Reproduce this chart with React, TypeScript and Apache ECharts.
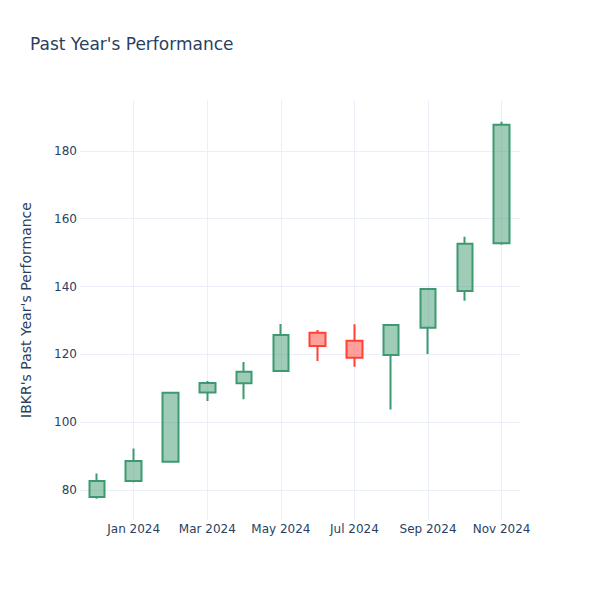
import React, { useEffect, useRef } from "react";
import * as echarts from "echarts";

// Monthly candles, Dec 2023 .. Nov 2024
const monthLabels = [
  "Dec 2023", "Jan 2024", "Feb 2024", "Mar 2024", "Apr 2024", "May 2024",
  "Jun 2024", "Jul 2024", "Aug 2024", "Sep 2024", "Oct 2024", "Nov 2024",
];
const openVals = [78.0, 82.7, 88.4, 108.8, 111.5, 115.1, 126.4, 124.0, 119.8, 127.9, 138.7, 152.8];
const closeVals = [82.7, 88.6, 108.7, 111.6, 114.9, 125.7, 122.5, 119.0, 128.7, 139.3, 152.6, 187.7];
const lowVals = [77.5, 82.3, 88.3, 106.3, 106.8, 115.1, 118.1, 116.4, 103.8, 120.1, 135.8, 152.3];
const highVals = [84.9, 92.3, 109.0, 112.2, 117.8, 129.0, 127.2, 128.9, 128.9, 139.5, 154.7, 188.6];

const FONT = "DejaVu Sans";
const TEXT = "#2a3f5f";

export default function App() {
  const ref = useRef<HTMLDivElement>(null);
  useEffect(() => {
    document.body.style.margin = "0";
    const chart = echarts.init(ref.current!, null, { renderer: "svg" });
    // x position = month offset from Jan 2024
    const data = monthLabels.map((_, i) => [i - 1, openVals[i], closeVals[i], lowVals[i], highVals[i]]);
    chart.setOption({
      animation: false,
      textStyle: { fontFamily: FONT },
      title: {
        text: "Past Year's Performance",
        left: 30,
        top: 35,
        padding: 0,
        textStyle: { fontFamily: FONT, fontSize: 17, fontWeight: "normal", color: TEXT },
      },
      grid: { left: 80, right: 80, top: 100, bottom: 80 },
      xAxis: {
        type: "value",
        min: -1.46,
        max: 10.5,
        axisLine: { show: false },
        axisTick: { show: false },
        axisLabel: {
          color: TEXT,
          fontSize: 12,
          margin: 3,
          showMinLabel: false,
          showMaxLabel: false,
          formatter: (v: number) => monthLabels[Math.round(v) + 1] ?? "",
        },
        splitLine: {
          show: true,
          showMinLine: false,
          showMaxLine: false,
          lineStyle: { color: "#ebf0f8", width: 1 },
        },
      },
      yAxis: {
        type: "value",
        min: 71.2,
        max: 195,
        scale: true,
        name: "IBKR's Past Year's Performance",
        nameLocation: "middle",
        nameGap: 47,
        nameTextStyle: { color: TEXT, fontSize: 14, fontFamily: FONT },
        axisLine: { show: false },
        axisTick: { show: false },
        axisLabel: {
          color: TEXT,
          fontSize: 12,
          margin: 3,
          showMinLabel: false,
          showMaxLabel: false,
        },
        splitLine: {
          show: true,
          showMinLine: false,
          showMaxLine: false,
          lineStyle: { color: "#ebf0f8", width: 1 },
        },
      },
      series: [
        {
          type: "candlestick",
          data,
          encode: { x: 0, y: [1, 2, 3, 4] },
          barWidth: 16,
          itemStyle: {
            color: "rgba(61,153,112,0.5)",
            color0: "rgba(255,65,54,0.5)",
            borderColor: "#3D9970",
            borderColor0: "#FF4136",
            borderWidth: 2,
          },
        },
      ],
    });
    return () => chart.dispose();
  }, []);
  return <div ref={ref} style={{ width: 600, height: 600 }} />;
}
